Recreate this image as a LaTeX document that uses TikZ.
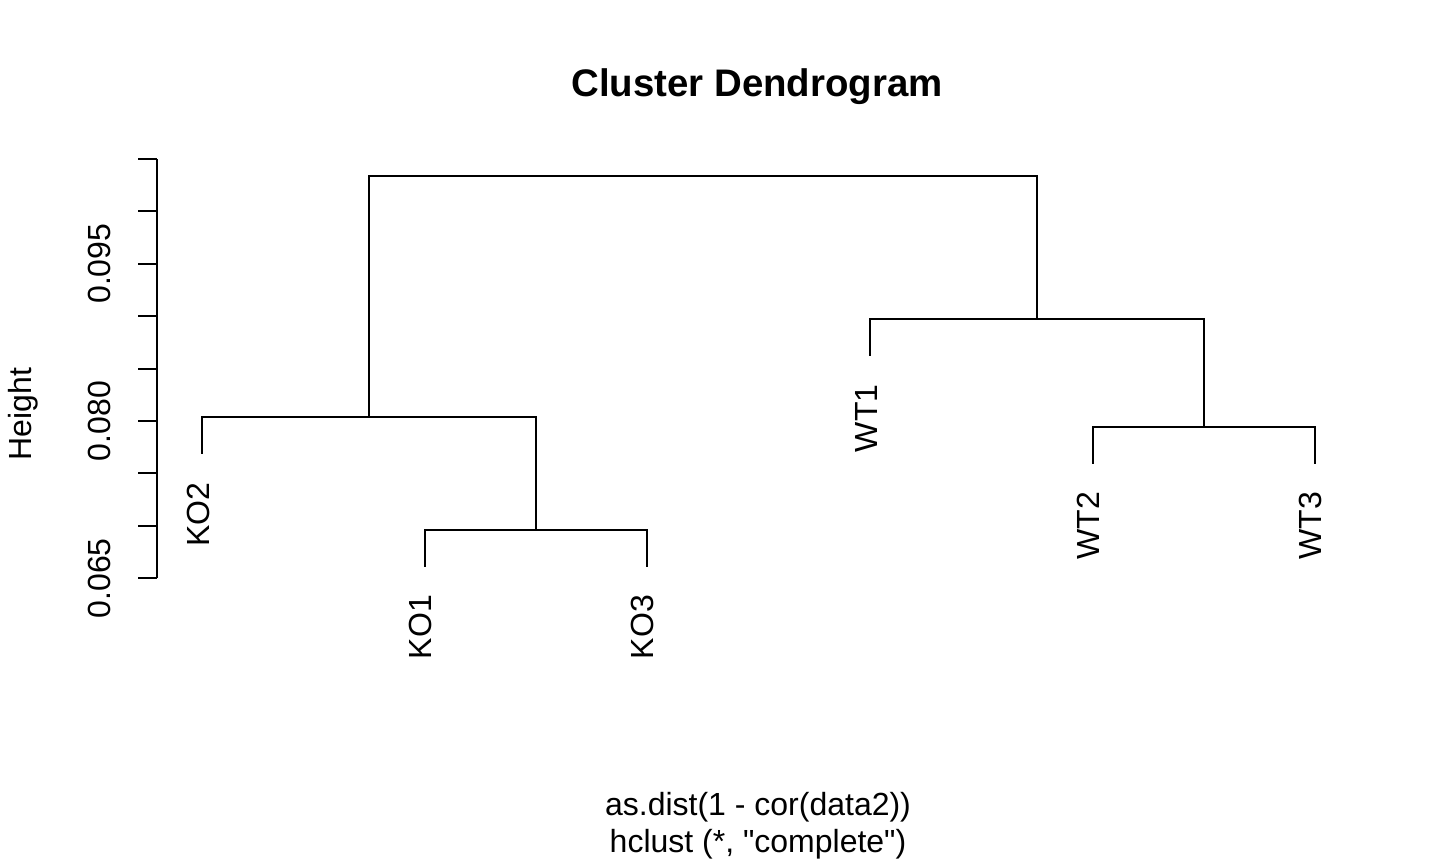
\documentclass[tikz,border=0pt]{standalone}
\usepackage{fontspec}
\setmainfont{Liberation Sans}
\newfontfamily\plainsans{Liberation Sans}
\usetikzlibrary{calc}
\tikzset{
  branch/.style={line width=0.75pt, line cap=rect},
  axisline/.style={line width=0.75pt},
  ticklab/.style={rotate=90, anchor=base, inner sep=0pt, font=\fontsize{12}{14}\selectfont},
  leaflab/.style={rotate=90, anchor=base east, inner sep=0pt, font=\fontsize{12}{14}\selectfont},
  plaintext/.style={inner sep=0pt, font=\fontsize{12}{14}\selectfont},
}
\begin{document}
\begin{tikzpicture}[x=0.375pt, y=-0.375pt]
\useasboundingbox[fill=white] (0,0) rectangle (1440,864);

% title and subtitle
\node[plaintext, anchor=base, font=\fontsize{14.4}{17}\selectfont\bfseries] (title) at (757,96.5) {Cluster Dendrogram};
\node[plaintext, anchor=base] (sub1) at (758,815) {as.dist(1 - cor(data2))};
\node[plaintext, anchor=base, font=\fontsize{12}{14}\plainsans] (sub2) at (758,852.5) {hclust (*, "complete")};

% y axis
\coordinate (ax0) at (157,578.3);
\coordinate (ax1) at (157,158.9);
\draw[axisline] (ax0) -- (ax1);
\foreach \k in {0,...,8}{
  \coordinate (t\k) at (157,578.3-52.43*\k);
  \draw[axisline] (t\k) -- ++(-19.3,0);
}
\node[ticklab] (l065) at (110,578.3) {0.065};
\node[ticklab] (l080) at (110,421.0) {0.080};
\node[ticklab] (l095) at (110,263.7) {0.095};
\node[ticklab] (ylab) at (31.5,414) {Height};

% leaves (end points)
\coordinate (k2) at (202,453);
\coordinate (k1) at (424.5,565.5);
\coordinate (k3) at (646.5,565.5);
\coordinate (w1) at (870,355);
\coordinate (w2) at (1092.5,462.5);
\coordinate (w3) at (1314.5,462.5);

% merge points
\coordinate (m13) at (535.5,529.5);
\coordinate (mK) at (368.75,417);
\coordinate (m23) at (1203.5,426.5);
\coordinate (mW) at (1036.75,319);
\coordinate (root) at (702.75,176);

% branches
\draw[branch] (k1) |- (m13) -| (k3);
\draw[branch] (k2) |- (mK) -| (m13);
\draw[branch] (w2) |- (m23) -| (w3);
\draw[branch] (w1) |- (mW) -| (m23);
\draw[branch] (mK) |- (root) -| (mW);

% leaf labels
\node[leaflab] (lKO2) at ($(k2)+(7,29)$) {KO2};
\node[leaflab] (lKO1) at ($(k1)+(7,29)$) {KO1};
\node[leaflab] (lKO3) at ($(k3)+(7,29)$) {KO3};
\node[leaflab] (lWT1) at ($(w1)+(7,29)$) {WT1};
\node[leaflab] (lWT2) at ($(w2)+(7,29)$) {WT2};
\node[leaflab] (lWT3) at ($(w3)+(7,29)$) {WT3};
\end{tikzpicture}
\end{document}
